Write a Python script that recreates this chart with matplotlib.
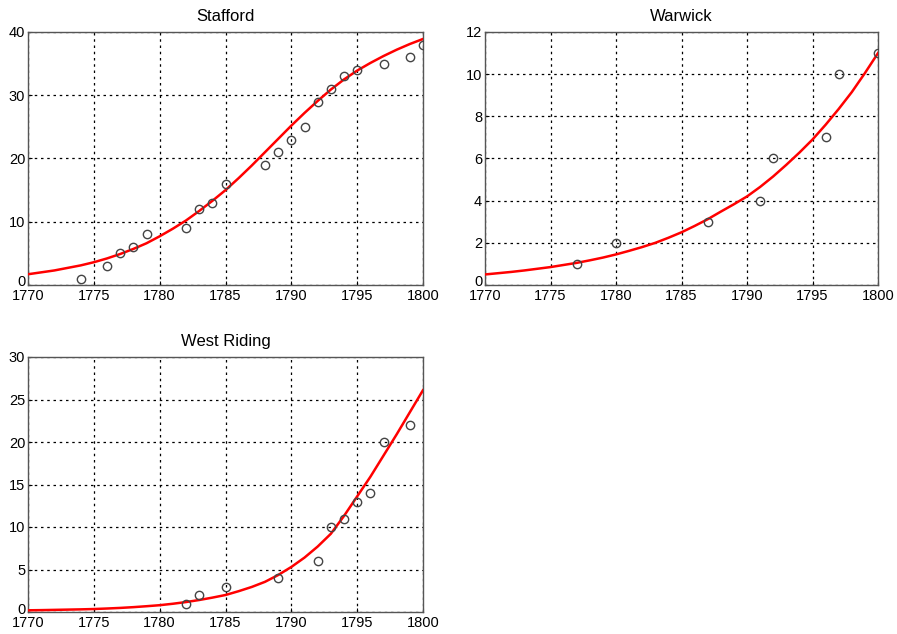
import matplotlib.pyplot as plt
import matplotlib.transforms as mtransforms
import numpy as np

plt.rcParams['font.family'] = ['Liberation Sans', 'DejaVu Sans']

years = list(range(1770, 1801))

# Stafford
staff_x = [1774, 1776, 1777, 1778, 1779, 1782, 1783, 1784, 1785, 1788,
           1789, 1790, 1791, 1792, 1793, 1794, 1795, 1797, 1799, 1800]
staff_y = [1, 3, 5, 6, 8, 9, 12, 13, 16, 19, 21, 23, 25, 29, 31, 33, 34, 35, 36, 38]
staff_fit = [1.7, 2.0, 2.3, 2.7, 3.1, 3.6, 4.2, 4.9, 5.7, 6.6, 7.7, 8.9, 10.2, 11.7,
             13.3, 15.0, 16.9, 18.9, 21.0, 23.1, 25.2, 27.2, 29.1, 30.9, 32.5,
             33.9, 35.1, 36.2, 37.2, 38.1, 38.9]

# Warwick
warw_x = [1777, 1780, 1787, 1791, 1792, 1796, 1797, 1800]
warw_y = [1, 2, 3, 4, 6, 7, 10, 11]
warw_fit = [0.50, 0.56, 0.62, 0.69, 0.77, 0.85, 0.95, 1.05, 1.17, 1.30, 1.45,
            1.62, 1.80, 2.00, 2.24, 2.50, 2.80, 3.12, 3.48, 3.83, 4.20, 4.65,
            5.15, 5.70, 6.28, 6.90, 7.60, 8.35, 9.15, 10.05, 11.0]

# West Riding
west_x = [1782, 1783, 1785, 1789, 1792, 1793, 1794, 1795, 1796, 1797, 1799]
west_y = [1, 2, 3, 4, 6, 10, 11, 13, 14, 20, 22]
west_fit = [0.20, 0.22, 0.25, 0.28, 0.31, 0.35, 0.41, 0.48, 0.57, 0.68, 0.80,
            0.97, 1.17, 1.41, 1.69, 2.00, 2.45, 2.95, 3.55, 4.35, 5.30, 6.40,
            7.70, 9.20, 11.30, 13.60, 15.9, 18.4, 20.9, 23.5, 26.1]

panels = [
    ("Stafford", staff_x, staff_y, staff_fit, 40, 10, [28, 285, 423, 32]),
    ("Warwick", warw_x, warw_y, warw_fit, 12, 2, [485, 285, 878, 32]),
    ("West Riding", west_x, west_y, west_fit, 30, 5, [28, 612, 423, 357]),
]

W, H = 897, 634
fig = plt.figure(figsize=(W / 100, H / 100), dpi=100)

for title, px, py, fit, ymax, ystep, (l, b, r, t) in panels:
    ax = fig.add_axes([l / W, 1 - b / H, (r - l) / W, (b - t) / H])
    ax.plot(years, fit, color='red', lw=1.8, zorder=3)
    ax.plot(px, py, 'o', mfc='none', mec='#444444', ms=6, mew=1.0, zorder=4)
    ax.set_xlim(1770, 1800)
    ax.set_ylim(0, ymax)
    ax.set_xticks(range(1770, 1801, 5))
    ax.set_yticks(np.arange(0, ymax + 0.1, ystep))
    ax.grid(True, color='black', linestyle=(0, (2, 3)), linewidth=0.9)
    ax.tick_params(direction='in', length=3, labelsize=10.5, colors='black')
    ax.tick_params(axis='x', pad=3)
    ax.tick_params(axis='y', pad=2)
    for s in ax.spines.values():
        s.set_color('#555555')
        s.set_linewidth(1.0)
    ax.set_title(title, fontsize=12, pad=8)

    # lift the bottom y label a little so it clears the first year label
    fig.canvas.draw()
    lab0 = ax.get_yticklabels()[0]
    lab0.set_transform(lab0.get_transform() +
                       mtransforms.ScaledTranslation(0, 4 / 100, fig.dpi_scale_trans))

fig.savefig('out.png', dpi=100)
